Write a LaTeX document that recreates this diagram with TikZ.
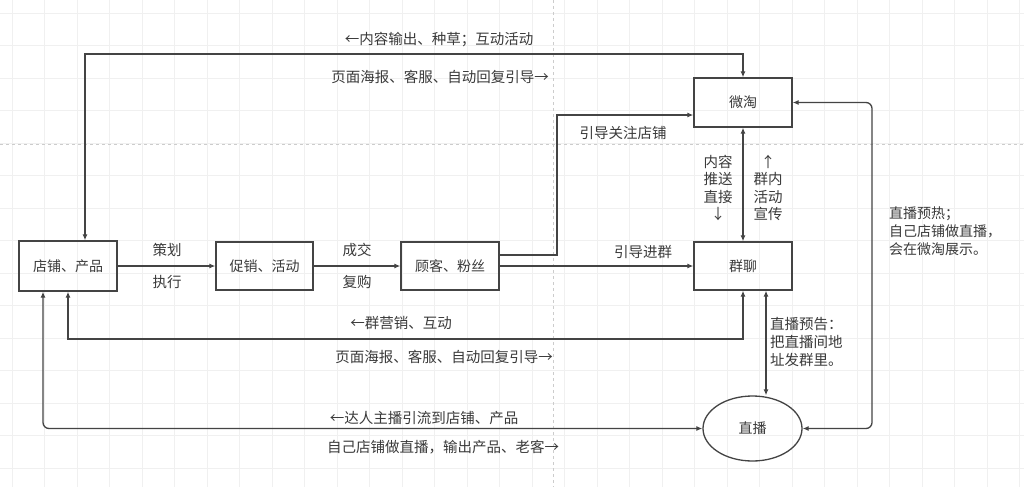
\documentclass[tikz,border=0pt]{standalone}
\usepackage{fontspec}
\newfontfamily\cjk{Noto Sans CJK SC}
\usetikzlibrary{arrows.meta,shapes.geometric}
\definecolor{linec}{HTML}{444444}
\definecolor{textc}{HTML}{3A3A3A}
\definecolor{gridc}{HTML}{F0F0F0}
\definecolor{pagec}{HTML}{CCCCCC}
\tikzset{
  box/.style={draw=linec, line width=1.3pt, rectangle, minimum height=49pt, inner sep=0pt, font=\cjk\fontsize{14}{17}\selectfont, text=textc},
  oval/.style={draw=linec, line width=1.3pt, ellipse, minimum width=99pt, minimum height=65pt, inner sep=0pt, font=\cjk\fontsize{14}{17}\selectfont, text=textc},
  lbl/.style={font=\cjk\fontsize{14.5}{18}\selectfont, text=textc, inner sep=0pt},
  conn/.style={draw=linec, line width=1.3pt, -{Latex[length=6pt,width=5pt]}},
  dbl/.style={draw=linec, line width=1.3pt, {Latex[length=6pt,width=5pt]}-{Latex[length=6pt,width=5pt]}}
}
\begin{document}
\begin{tikzpicture}[x=1pt,y=-1pt]
\useasboundingbox (0,0) rectangle (1024,487);
\fill[white] (0,0) rectangle (1024,487);
% grid
\foreach \i in {0,...,31} \draw[gridc, line width=0.8pt] (12+32.5*\i,0) -- (12+32.5*\i,487);
\foreach \j in {0,...,14} \draw[gridc, line width=0.8pt] (0,13+32.5*\j) -- (1024,13+32.5*\j);
\draw[pagec, dashed, line width=0.7pt] (0,144) -- (1024,144);
\draw[pagec, dashed, line width=0.7pt] (553,0) -- (553,487);

% nodes
\node[box, minimum width=98pt, minimum height=50pt] (shop) at (68,266) {店铺、产品};
\node[box, minimum width=97pt, minimum height=48pt] (promo) at (264.5,266) {促销、活动};
\node[box, minimum width=98pt, minimum height=48pt] (cust) at (450,266) {顾客、粉丝};
\node[box, minimum width=98pt] (wt) at (743,102.5) {微淘};
\node[box, minimum width=98pt, minimum height=48pt] (group) at (743,266) {群聊};
\node[oval] (live) at (752.5,428.5) {直播};

\coordinate (topy) at (0,54);
\coordinate (bend) at (557,0);
\coordinate (lowy) at (0,339);
\coordinate (rx) at (872,0);
\coordinate (wtin) at ([yshift=-12.5pt]wt.west);
\coordinate (custout) at ([yshift=11pt]cust.east);

% connectors
\draw[conn] (shop) -- (promo);
\draw[conn] (promo) -- (cust);
\draw[dbl] ([xshift=17pt]shop.north) |- (wt.north |- topy) -- (wt.north);
\draw[conn] (custout) -| (bend |- wtin) -- (wtin);
\draw[conn] (cust.east) -- (group.west);
\draw[dbl] (wt.south) -- (group.north);
\draw[dbl] (group.south) |- (shop.south |- lowy) -- (shop.south);
\draw[dbl] ([xshift=23pt]group.south) -- ([xshift=23pt]group.south |- live.north);
\draw[dbl, rounded corners=6pt] ([xshift=-25pt]shop.south) |- (live.west);
\draw[dbl, rounded corners=6pt] (live.east) -| (rx |- wt.east) -- (wt.east);

% labels
\node[lbl] (l1) at (439,40) {←内容输出、种草；互动活动};
\node[lbl] (l2) at (440,77) {页面海报、客服、自动回复引导→};
\node[lbl] (l3) at (623,133) {引导关注店铺};
\node[lbl] (l4) at (643,252) {引导进群};
\node[lbl] (l5) at (167,250) {策划};
\node[lbl] (l6) at (167,282) {执行};
\node[lbl] (l7) at (357,250) {成交};
\node[lbl] (l8) at (357,282) {复购};
\node[lbl] (l9) at (401,323) {←群营销、互动};
\node[lbl] (l10) at (444,357) {页面海报、客服、自动回复引导→};
\node[lbl] (l11) at (424,418) {←达人主播引流到店铺、产品};
\node[lbl] (l12) at (443,447) {自己店铺做直播，输出产品、老客→};
\node[lbl, align=center, font=\cjk\fontsize{14.5}{17.5}\selectfont] (l13) at (718,188) {内容\\推送\\直接\\↓};
\node[lbl, align=center, font=\cjk\fontsize{14.5}{17.5}\selectfont] (l14) at (768,188) {↑\\群内\\活动\\宣传};
\node[lbl, align=left, anchor=north west, font=\cjk\fontsize{14.5}{18}\selectfont] (l15) at (770,317) {直播预告：\\把直播间地\\址发群里。};
\node[lbl, align=left, anchor=north west, font=\cjk\fontsize{14}{18}\selectfont] (l16) at (889,207) {直播预热；\\自己店铺做直播，\\会在微淘展示。};
\end{tikzpicture}
\end{document}
